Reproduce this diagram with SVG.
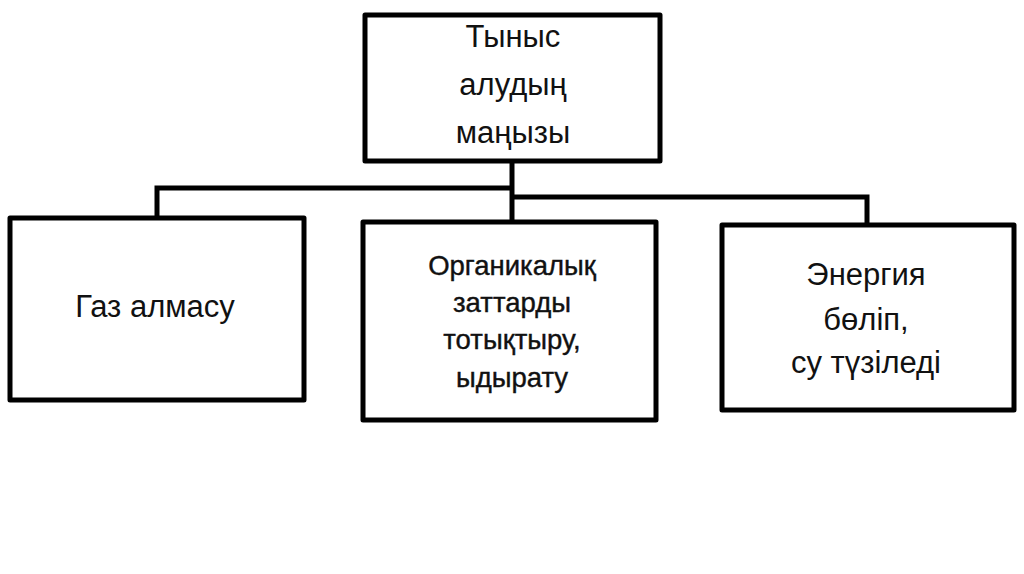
<svg xmlns="http://www.w3.org/2000/svg" width="1024" height="574" viewBox="0 0 1024 574">
<style>
.box{fill:#fff;stroke:#000;stroke-width:5;stroke-linejoin:round}
.con{fill:none;stroke:#000;stroke-width:5;stroke-linejoin:miter}
text{font-family:"Liberation Sans",Arial,sans-serif;fill:#111;text-anchor:middle}
.big{font-size:31px}
.mid{font-size:27.5px;stroke:#111;stroke-width:0.4}
</style>
<rect width="1024" height="574" fill="#fff"/>
<g id="connectors">
<polyline class="con" points="157,218 157,188 512,188"/>
<polyline class="con" points="512,161 512,222"/>
<polyline class="con" points="512,197 867,197 867,225"/>
</g>
<g id="top">
<rect class="box" x="365" y="15" width="295" height="146"/>
<text class="big" x="513" y="47">Тыныс</text>
<text class="big" x="513" y="95">алудың</text>
<text class="big" x="513" y="143">маңызы</text>
</g>
<g id="left">
<rect class="box" x="10" y="218" width="294" height="182"/>
<text class="big" x="155" y="317">Газ алмасу</text>
</g>
<g id="middle">
<rect class="box" x="363" y="222" width="293" height="198"/>
<text class="mid" x="512" y="275">Органикалық</text>
<text class="mid" x="512" y="312">заттарды</text>
<text class="mid" x="512" y="349">тотықтыру,</text>
<text class="mid" x="512" y="387">ыдырату</text>
</g>
<g id="right">
<rect class="box" x="722" y="225" width="292" height="185"/>
<text class="big" x="866" y="285">Энергия</text>
<text class="big" x="866" y="330">бөліп,</text>
<text class="big" x="866" y="373">су түзіледі</text>
</g>
</svg>
